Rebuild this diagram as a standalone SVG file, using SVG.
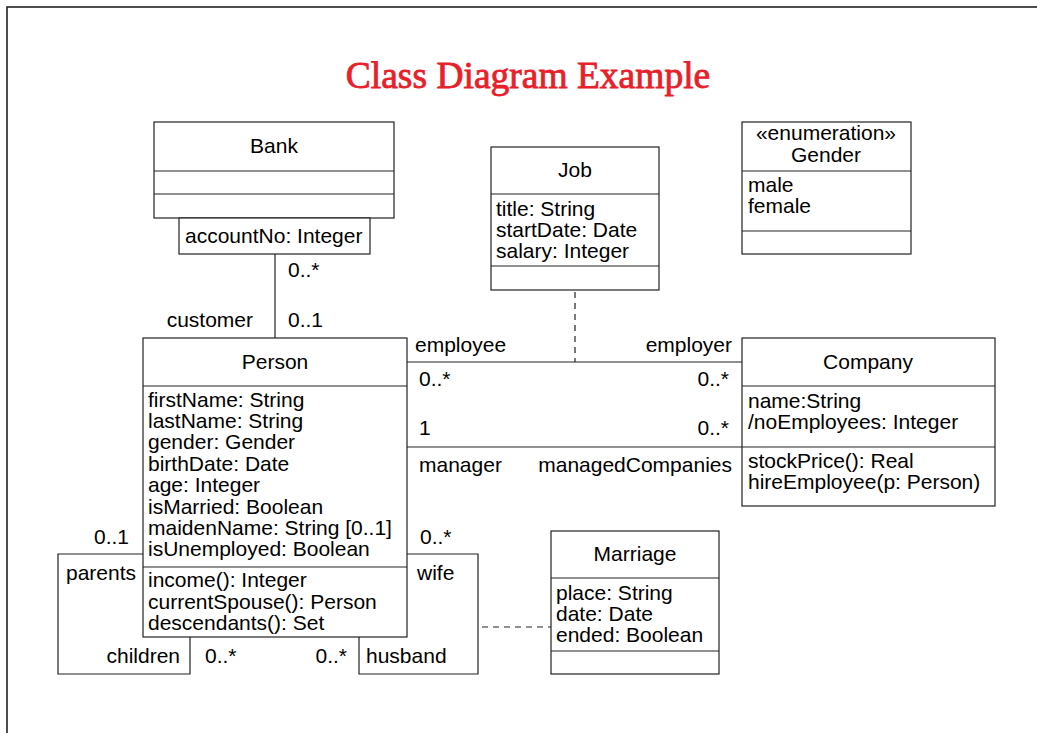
<svg xmlns="http://www.w3.org/2000/svg" width="1037" height="733" viewBox="0 0 1037 733">
<style>
.box{fill:#fff;stroke:#222;stroke-width:1.2}
.ln{fill:none;stroke:#222;stroke-width:1.2}
.dash{fill:none;stroke:#222;stroke-width:1.2;stroke-dasharray:6 5}
text{font-family:"Liberation Sans",Arial,sans-serif;font-size:21px;fill:#000}
.c{text-anchor:middle}
.r{text-anchor:end}
.title{font-family:"Liberation Serif","Times New Roman",serif;font-size:37.5px;font-weight:normal;fill:#e8202a;stroke:#e8202a;stroke-width:0.8}
</style>
<rect x="7" y="7" width="1100" height="800" fill="#fff" stroke="#222" stroke-width="1.6"/>
<text class="title c" x="528" y="88">Class Diagram Example</text>

<g id="connectors">
  <line class="ln" x1="275" y1="254" x2="275" y2="338"/>
  <line class="ln" x1="407" y1="362" x2="742" y2="362"/>
  <line class="ln" x1="407" y1="447" x2="742" y2="447"/>
  <line class="dash" x1="575" y1="292" x2="575" y2="362"/>
  <polyline class="ln" points="143,554 58,554 58,674 190,674 190,637"/>
  <polyline class="ln" points="407,554 478,554 478,674 359,674 359,637"/>
  <line class="dash" x1="482" y1="627" x2="551" y2="627"/>
  <text x="288" y="277">0..*</text>
  <text class="r" x="253" y="327">customer</text>
  <text x="288" y="327">0..1</text>
  <text x="415" y="352">employee</text>
  <text class="r" x="732" y="352">employer</text>
  <text x="419" y="386">0..*</text>
  <text class="r" x="729" y="386">0..*</text>
  <text x="419" y="435">1</text>
  <text class="r" x="729" y="435">0..*</text>
  <text x="419" y="472">manager</text>
  <text class="r" x="732" y="472">managedCompanies</text>
  <text class="r" x="129" y="544">0..1</text>
  <text x="66" y="580">parents</text>
  <text class="r" x="180" y="663">children</text>
  <text x="205" y="663">0..*</text>
  <text class="r" x="347" y="663">0..*</text>
  <text x="420" y="544">0..*</text>
  <text x="417" y="580">wife</text>
  <text x="366" y="663">husband</text>
</g>

<g id="bank">
  <rect class="box" x="154" y="122" width="240" height="96"/>
  <line class="ln" x1="154" y1="171" x2="394" y2="171"/>
  <line class="ln" x1="154" y1="194" x2="394" y2="194"/>
  <text class="c" x="274" y="153">Bank</text>
  <rect class="box" x="179" y="218" width="191" height="36"/>
  <text x="185" y="243">accountNo: Integer</text>
</g>

<g id="job">
  <rect class="box" x="491" y="147" width="168" height="143"/>
  <line class="ln" x1="491" y1="194" x2="659" y2="194"/>
  <line class="ln" x1="491" y1="266" x2="659" y2="266"/>
  <text class="c" x="575" y="177">Job</text>
  <text x="496" y="216">title: String</text>
  <text x="496" y="237">startDate: Date</text>
  <text x="496" y="258">salary: Integer</text>
</g>

<g id="gender">
  <rect class="box" x="742" y="122" width="169" height="132"/>
  <line class="ln" x1="742" y1="171" x2="911" y2="171"/>
  <line class="ln" x1="742" y1="231" x2="911" y2="231"/>
  <text class="c" x="826" y="140">«enumeration»</text>
  <text class="c" x="826" y="162">Gender</text>
  <text x="748" y="192">male</text>
  <text x="748" y="213">female</text>
</g>

<g id="person">
  <rect class="box" x="143" y="338" width="264" height="299"/>
  <line class="ln" x1="143" y1="386" x2="407" y2="386"/>
  <line class="ln" x1="143" y1="567" x2="407" y2="567"/>
  <text class="c" x="275" y="369">Person</text>
  <text x="148" y="407">firstName: String</text>
  <text x="148" y="428">lastName: String</text>
  <text x="148" y="449">gender: Gender</text>
  <text x="148" y="471">birthDate: Date</text>
  <text x="148" y="492">age: Integer</text>
  <text x="148" y="514">isMarried: Boolean</text>
  <text x="148" y="535">maidenName: String [0..1]</text>
  <text x="148" y="556">isUnemployed: Boolean</text>
  <text x="148" y="587">income(): Integer</text>
  <text x="148" y="609">currentSpouse(): Person</text>
  <text x="148" y="630">descendants(): Set</text>
</g>

<g id="company">
  <rect class="box" x="742" y="338" width="253" height="168"/>
  <line class="ln" x1="742" y1="386" x2="995" y2="386"/>
  <line class="ln" x1="742" y1="447" x2="995" y2="447"/>
  <text class="c" x="868" y="369">Company</text>
  <text x="748" y="408">name:String</text>
  <text x="748" y="429">/noEmployees: Integer</text>
  <text x="748" y="468">stockPrice(): Real</text>
  <text x="748" y="489">hireEmployee(p: Person)</text>
</g>

<g id="marriage">
  <rect class="box" x="551" y="531" width="168" height="143"/>
  <line class="ln" x1="551" y1="578" x2="719" y2="578"/>
  <line class="ln" x1="551" y1="651" x2="719" y2="651"/>
  <text class="c" x="635" y="561">Marriage</text>
  <text x="556" y="600">place: String</text>
  <text x="556" y="621">date: Date</text>
  <text x="556" y="642">ended: Boolean</text>
</g>
</svg>
